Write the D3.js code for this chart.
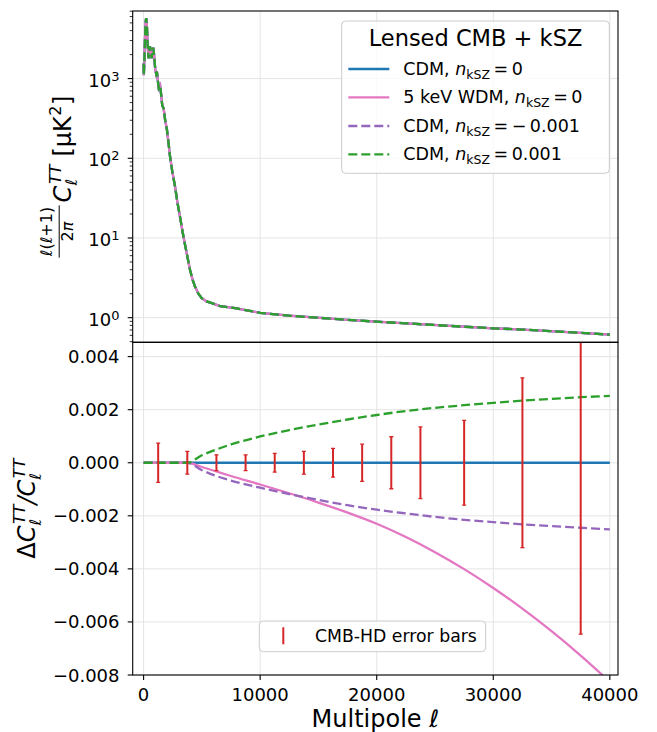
<!DOCTYPE html>
<html>
<head>
<meta charset="utf-8">
<script src="https://cdn.jsdelivr.net/npm/d3@7"></script>
<style>
  body { margin: 0; background: #fff; }
  svg text { font-family: "DejaVu Sans", sans-serif; fill: #000; }
</style>
</head>
<body>
<script>
// ---- data ----
// lensed CMB + kSZ spectrum, l(l+1)C_l/2pi [uK^2]
const ells = [2, 20, 60, 120, 180, 220, 280, 350, 420, 480, 540, 600, 680, 750, 820, 900, 1000, 1080, 1140, 1220,
  1300, 1420, 1500, 1600, 1720, 1850, 2000, 2150, 2270, 2450, 2700, 2900, 3120, 3350, 3550, 3780, 3980, 4200,
  4410, 4700, 4990, 5400, 5850, 6560, 7850, 10000, 12500, 14860, 17500, 20000, 22500, 24850, 27500, 30000,
  32500, 34880, 37500, 40000];
const dlTT = [1550, 1100, 1600, 3200, 5200, 5750, 4700, 2600, 1800, 2100, 2550, 2300, 1800, 2100, 2450, 2000, 1300,
  1150, 1220, 950, 760, 820, 640, 460, 420, 300, 230, 150, 105, 70, 44, 28, 18.6, 11.8, 8.3, 5.6, 4.0, 3.0,
  2.46, 2.0, 1.76, 1.6, 1.52, 1.40, 1.32, 1.15, 1.06, 1.0, 0.94, 0.89, 0.85, 0.81, 0.77, 0.735,
  0.71, 0.68, 0.645, 0.612];

// fractional difference Delta C_l / C_l
const ratioEll  = [2, 3750, 5000, 6250, 7500, 10000, 12500, 15000, 17500, 20000, 22500, 25000, 27500, 30000, 32500, 35000, 37500, 40000];
const ratioCDM0 = [0, 0, 0, 0, 0, 0, 0, 0, 0, 0, 0, 0, 0, 0, 0, 0, 0, 0];
const ratioWDM  = [0, 0, -0.00016, -0.00033, -0.0005, -0.00082, -0.00115, -0.0015, -0.00188, -0.0023, -0.0028, -0.00337, -0.00401, -0.00472, -0.0055, -0.00635, -0.00727, -0.00826];
const ratioNeg  = [0, 0, -0.00028, -0.0005, -0.00067, -0.00094, -0.00118, -0.0014, -0.0016, -0.00177, -0.00191, -0.00204, -0.00215, -0.00224, -0.00232, -0.00239, -0.00245, -0.00251];
const ratioPos  = [0, 0, 0.00028, 0.0005, 0.00069, 0.00099, 0.00123, 0.00144, 0.00163, 0.0018, 0.00195, 0.00207, 0.00217, 0.00226, 0.00234, 0.00241, 0.00247, 0.00252];

// CMB-HD error bars
const errEll   = [1250, 3750, 6250, 8750, 11250, 13750, 16250, 18750, 21250, 23750, 27500, 32500, 37500];
const errSigma = [0.00074, 0.00043, 0.0003, 0.0003, 0.00035, 0.00043, 0.00054, 0.0007, 0.00098, 0.00135, 0.0016, 0.0032, 0.00646];

const xTicks = [0, 10000, 20000, 30000, 40000];
const logTicks = [1, 10, 100, 1000];
const ratioTicks = [-0.008, -0.006, -0.004, -0.002, 0, 0.002, 0.004];

const seriesLabels = ["CDM", "5 keV WDM", "CDM", "CDM"];
const seriesN = ["0", "0", "\u2212\u20090.001", "0.001"];
const seriesColors = ["#1f77b4", "#e377c2", "#9467bd", "#2ca02c"];
const seriesDash = [null, null, "9,4", "9,4"];
const seriesRatio = [ratioCDM0, ratioWDM, ratioNeg, ratioPos];

// ---- layout ----
const W = 657, H = 732;
const L = 132.7, R = 618;
const T1 = 11, B1 = 342.3, B2 = 675;

const svg = d3.select("body").append("svg").attr("width", W).attr("height", H);

const x = d3.scaleLinear().domain([-935, 40700]).range([L, R]);
const yTop = d3.scaleLog().domain([0.491, 7047]).range([B1, T1]);
const yBot = d3.scaleLinear().domain([-0.008, 0.00454]).range([B2, B1]);

const defs = svg.append("defs");
defs.append("clipPath").attr("id", "clipTop").append("rect")
  .attr("x", L).attr("y", T1).attr("width", R - L).attr("height", B1 - T1);
defs.append("clipPath").attr("id", "clipBot").append("rect")
  .attr("x", L).attr("y", B1).attr("width", R - L).attr("height", B2 - B1);

const gridColor = "#e4e4e4";

// grids
const grid = svg.append("g");
xTicks.forEach(t => {
  grid.append("line").attr("x1", x(t)).attr("x2", x(t)).attr("y1", T1).attr("y2", B2)
    .style("stroke", gridColor).style("stroke-width", 1);
});
logTicks.forEach(t => {
  grid.append("line").attr("x1", L).attr("x2", R).attr("y1", yTop(t)).attr("y2", yTop(t))
    .style("stroke", gridColor).style("stroke-width", 1);
});
ratioTicks.forEach(t => {
  grid.append("line").attr("x1", L).attr("x2", R).attr("y1", yBot(t)).attr("y2", yBot(t))
    .style("stroke", gridColor).style("stroke-width", 1);
});

// top panel curves (differences between models are far below a pixel here)
const lineTop = d3.line().x((d, i) => x(ells[i])).y(d => yTop(d));
const topG = svg.append("g").attr("clip-path", "url(#clipTop)");
seriesColors.forEach((c, k) => {
  topG.append("path").datum(dlTT).attr("d", lineTop)
    .style("fill", "none").style("stroke", c).style("stroke-width", 2.3)
    .style("stroke-dasharray", seriesDash[k]);
});

// bottom panel curves
const lineBot = d3.line().x((d, i) => x(ratioEll[i])).y(d => yBot(d)).curve(d3.curveMonotoneX);
const botG = svg.append("g").attr("clip-path", "url(#clipBot)");
seriesRatio.forEach((arr, k) => {
  botG.append("path").datum(arr).attr("d", lineBot)
    .style("fill", "none").style("stroke", seriesColors[k]).style("stroke-width", 2.3)
    .style("stroke-dasharray", seriesDash[k]);
});

// error bars
const red = "#d62728";
botG.selectAll("g.err")
  .data(errEll)
  .enter()
  .append("g")
  .attr("class", "err")
  .each(function(l, i) {
    const g = d3.select(this);
    const cx = x(l), y0 = yBot(-errSigma[i]), y1 = yBot(errSigma[i]);
    g.append("line").attr("x1", cx).attr("x2", cx).attr("y1", y0).attr("y2", y1)
      .style("stroke", red).style("stroke-width", 2);
    [y0, y1].forEach(yy => {
      g.append("line").attr("x1", cx - 2).attr("x2", cx + 2).attr("y1", yy).attr("y2", yy)
        .style("stroke", red).style("stroke-width", 1.3);
    });
  });

// spines
[[T1, B1], [B1, B2]].forEach(([a, b]) => {
  svg.append("rect").attr("x", L).attr("y", a).attr("width", R - L).attr("height", b - a)
    .style("fill", "none").style("stroke", "#000").style("stroke-width", 1.1);
});

// x axis ticks (bottom panel)
const ax = svg.append("g");
xTicks.forEach(t => {
  ax.append("line").attr("x1", x(t)).attr("x2", x(t)).attr("y1", B2).attr("y2", B2 + 5)
    .style("stroke", "#000").style("stroke-width", 1.1);
  ax.append("text").attr("x", x(t)).attr("y", 701.4).attr("text-anchor", "middle")
    .style("font-size", "18px").text(t);
});

// log y ticks
logTicks.forEach((t, i) => {
  const yy = yTop(t);
  ax.append("line").attr("x1", L - 5).attr("x2", L).attr("y1", yy).attr("y2", yy)
    .style("stroke", "#000").style("stroke-width", 1.1);
  const tx = ax.append("text").attr("x", 119.5).attr("y", yy + 8).attr("text-anchor", "end")
    .style("font-size", "18px");
  tx.append("tspan").text("10");
  tx.append("tspan").attr("dy", -6).style("font-size", "13px").text(String(Math.round(Math.log10(t))));
});
for (let k = -1; k <= 3; k++) {
  for (let m = 2; m <= 9; m++) {
    const v = m * Math.pow(10, k);
    if (v < 0.491 || v > 7047) continue;
    ax.append("line").attr("x1", L - 3).attr("x2", L).attr("y1", yTop(v)).attr("y2", yTop(v))
      .style("stroke", "#000").style("stroke-width", 0.8);
  }
}

// linear y ticks
const fmt = d3.format(".3f");
ratioTicks.forEach(t => {
  const yy = yBot(t);
  ax.append("line").attr("x1", L - 5).attr("x2", L).attr("y1", yy).attr("y2", yy)
    .style("stroke", "#000").style("stroke-width", 1.1);
  ax.append("text").attr("x", 119.5).attr("y", yy + 6.5).attr("text-anchor", "end")
    .style("font-size", "18px").text(fmt(t).replace("-", "\u2212"));
});

// axis labels
const xl = svg.append("text").attr("x", (L + R) / 2).attr("y", 726.5).attr("text-anchor", "middle")
  .style("font-size", "24px");
xl.append("tspan").text("Multipole ");
xl.append("tspan").style("font-style", "italic").text("\u2113");

function put(g, t, px, base, size, italic) {
  const n = g.append("text").attr("x", px).attr("y", base)
    .style("font-size", size + "px").style("font-style", italic ? "italic" : "normal").text(t);
  return n.node().getComputedTextLength();
}
function supSub(g, px, sup, sub) {
  const w1 = put(g, sup, px + 1.5, -10, 16, true);
  const w2 = put(g, sub, px, 6, 16, true);
  return Math.max(w1 + 1.5, w2);
}

// top y label
const yl1 = svg.append("g");
let cx = 0;
const num = yl1.append("text").attr("y", -19).attr("text-anchor", "middle").style("font-size", "16px");
num.append("tspan").style("font-style", "italic").text("\u2113");
num.append("tspan").text("(");
num.append("tspan").style("font-style", "italic").text("\u2113");
num.append("tspan").text("+1)");
const den = yl1.append("text").attr("y", 2).attr("text-anchor", "middle").style("font-size", "16px");
den.append("tspan").text("2");
den.append("tspan").style("font-style", "italic").text("\u03c0");
const fw = Math.max(num.node().getComputedTextLength(), den.node().getComputedTextLength()) + 3;
num.attr("x", fw / 2);
den.attr("x", fw / 2);
yl1.append("line").attr("x1", 0).attr("x2", fw).attr("y1", -11.5).attr("y2", -11.5)
  .style("stroke", "#000").style("stroke-width", 1);
cx = fw + 3;
cx += put(yl1, "C", cx, 0, 24, true);
cx += supSub(yl1, cx, "TT", "\u2113") + 8;
cx += put(yl1, "[\u03bcK", cx, 0, 24, false);
cx += put(yl1, "2", cx + 0.5, -10, 16, false) + 1;
cx += put(yl1, "]", cx, 0, 24, false);
yl1.attr("transform", `translate(70.7,${(T1 + B1) / 2 + cx / 2}) rotate(-90)`);

// bottom y label
const yl2 = svg.append("g");
let cx2 = 0;
cx2 += put(yl2, "\u0394", cx2, 0, 24, false);
cx2 += put(yl2, "C", cx2, 0, 24, true);
cx2 += supSub(yl2, cx2, "TT", "\u2113");
cx2 += put(yl2, "/", cx2, 0, 24, true);
cx2 += put(yl2, "C", cx2, 0, 24, true);
cx2 += supSub(yl2, cx2, "TT", "\u2113");
yl2.attr("transform", `translate(35,${(B1 + B2) / 2 + cx2 / 2}) rotate(-90)`);

// legend (top)
const lg = svg.append("g");
lg.append("rect").attr("x", 341.7).attr("y", 21).attr("width", 267.6).attr("height", 152.3).attr("rx", 4)
  .style("fill", "#fff").style("fill-opacity", 0.8).style("stroke", "#cccccc").style("stroke-width", 1);
lg.append("text").attr("x", 475.5).attr("y", 46).attr("text-anchor", "middle")
  .style("font-size", "22.5px").text("Lensed CMB + kSZ");
const rowY = [69, 97.3, 126, 154.3];
seriesLabels.forEach((lab, k) => {
  lg.append("line").attr("x1", 348.3).attr("x2", 389.3).attr("y1", rowY[k]).attr("y2", rowY[k])
    .style("stroke", seriesColors[k]).style("stroke-width", 2.3).style("stroke-dasharray", seriesDash[k]);
  const t = lg.append("text").attr("x", 403.3).attr("y", rowY[k] + 6).style("font-size", "17.5px");
  t.append("tspan").text(lab + ", ");
  t.append("tspan").style("font-style", "italic").text("n");
  t.append("tspan").attr("dy", 4).style("font-size", "12.5px").text("kSZ");
  t.append("tspan").attr("dy", -4).text("\u2009=\u2009" + seriesN[k]);
});

// legend (bottom)
const lg2 = svg.append("g");
lg2.append("rect").attr("x", 259.3).attr("y", 621).attr("width", 226.4).attr("height", 30.7).attr("rx", 4)
  .style("fill", "#fff").style("fill-opacity", 0.8).style("stroke", "#cccccc").style("stroke-width", 1);
lg2.append("line").attr("x1", 283.3).attr("x2", 283.3).attr("y1", 627.3).attr("y2", 644.3)
  .style("stroke", red).style("stroke-width", 2);
lg2.append("text").attr("x", 315).attr("y", 641.7).style("font-size", "17.3px").text("CMB-HD error bars");
</script>
</body>
</html>
